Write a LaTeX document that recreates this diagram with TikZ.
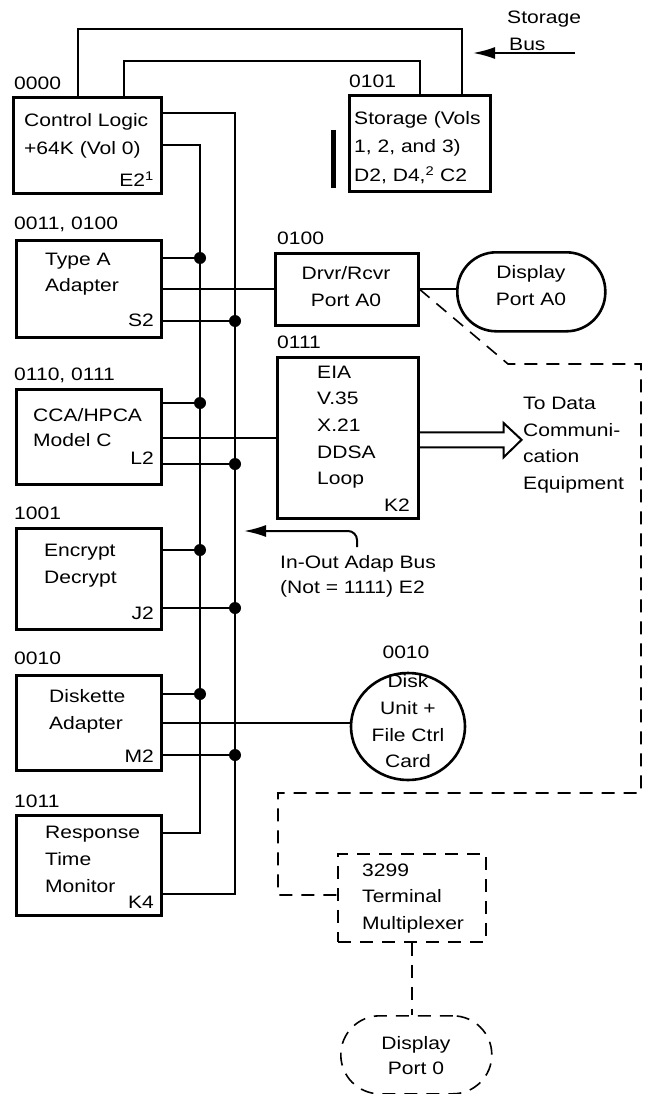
\documentclass[tikz,border=0pt]{standalone}
\usepackage{fontspec}
\setmainfont{Liberation Sans}[FakeStretch=1.17]
\usetikzlibrary{arrows.meta,shapes.geometric,calc}
\begin{document}
\begin{tikzpicture}[x=1pt,y=-1pt,
  box/.style={draw, line width=2.6pt, rectangle, inner sep=0pt, anchor=north west},
  stadium/.style={box, rounded corners=39pt},
  dbox/.style={draw, line width=1.6pt, dash pattern=on 13pt off 9pt, rectangle, inner sep=0pt, anchor=north west},
  wire/.style={line width=2pt},
  dwire/.style={line width=1.6pt, dash pattern=on 13pt off 9pt},
  dot/.style={circle, fill, inner sep=0pt, minimum size=12pt},
  txt/.style={inner sep=0pt, font=\fontsize{18}{20}\selectfont, text height=12.9pt, text depth=0pt},
  lbl/.style={txt, anchor=west},
  rlbl/.style={txt, anchor=east},
  clbl/.style={txt, anchor=center},
  bigarrow/.style={wire, -{Latex[length=22pt,width=12pt]}}
]
\useasboundingbox (0,0) rectangle (654,1094);

% ---------- boxes ----------
\node[box, minimum width=148pt, minimum height=96pt] (cl) at (12,96) {};
\node[box, minimum width=141pt, minimum height=96pt] (st) at (348,94) {};
\node[box, minimum width=145pt, minimum height=97pt] (ta) at (15,239) {};
\node[box, minimum width=143pt, minimum height=72pt] (dr) at (274,252) {};
\node[stadium, minimum width=148pt, minimum height=79pt] (dp) at (456,251) {};
\node[box, minimum width=141pt, minimum height=161pt] (ea) at (276,356) {};
\node[box, minimum width=145pt, minimum height=95pt] (cca) at (15,388) {};
\node[box, minimum width=145pt, minimum height=101pt] (enc) at (15,527) {};
\node[box, minimum width=145pt, minimum height=95pt] (dk) at (15,674) {};
\node[box, minimum width=145pt, minimum height=100pt] (rtm) at (15,814) {};
\node[draw, line width=2.6pt, ellipse, inner sep=0pt, minimum width=114pt, minimum height=107pt] (disk) at (408,726.5) {};
\node[dbox, minimum width=148pt, minimum height=88pt] (tm) at (337,853) {};
\node[dbox, rounded corners=39pt, minimum width=151pt, minimum height=78pt] (dp0) at (340,1015) {};

% ---------- labels ----------
\node[lbl] (l0000) at (14,83) {0000};
\node[lbl] (l0101) at (349,81) {0101};
\node[lbl] (sto) at (507,17) {Storage};
\node[lbl] (bus) at (509,44) {Bus};
\node[lbl] (l0011) at (14,223) {0011, 0100};
\node[lbl] (l0100) at (277,238) {0100};
\node[lbl] (l0111) at (277,342) {0111};
\node[lbl] (l0110) at (14,374) {0110, 0111};
\node[lbl] (l1001) at (14,513) {1001};
\node[lbl] (l0010a) at (14,658) {0010};
\node[clbl] (l0010b) at (406,652) {0010};
\node[lbl] (l1011) at (14,801) {1011};

% ---------- box texts ----------
\node[lbl] (cl1) at (24,120) {Control Logic};
\node[lbl] (cl2) at (24,148) {+64K (Vol 0)};
\node[rlbl] (cl3) at (154,180) {E2\textsuperscript{1}};

\node[lbl] (st1) at (354,118) {Storage (Vols};
\node[lbl] (st2) at (354,146) {1, 2, and 3)};
\node[lbl] (st3) at (354,175) {D2, D4,\textsuperscript{2} C2};

\node[lbl] (ta1) at (45,259) {Type A};
\node[lbl] (ta2) at (45,285) {Adapter};
\node[rlbl] (ta3) at (154,320) {S2};

\node[clbl] (dr1) at (346,273) {Drvr/Rcvr};
\node[clbl] (dr2) at (346,300) {Port A0};

\node[clbl] (dp1) at (531,272) {Display};
\node[clbl] (dp2) at (531,299) {Port A0};

\node[lbl] (ea1) at (317,372) {EIA};
\node[lbl] (ea2) at (317,398) {V.35};
\node[lbl] (ea3) at (317,425) {X.21};
\node[lbl] (ea4) at (317,452) {DDSA};
\node[lbl] (ea5) at (317,478) {Loop};
\node[rlbl] (ea6) at (410,505) {K2};

\node[lbl] (cca1) at (33,415) {CCA/HPCA};
\node[lbl] (cca2) at (33,440) {Model C};
\node[rlbl] (cca3) at (154,458) {L2};

\node[lbl] (td1) at (523,403) {To Data};
\node[lbl] (td2) at (523,430) {Communi-};
\node[lbl] (td3) at (523,456) {cation};
\node[lbl] (td4) at (523,483) {Equipment};

\node[lbl] (enc1) at (44,550) {Encrypt};
\node[lbl] (enc2) at (44,577) {Decrypt};
\node[rlbl] (enc3) at (154,613) {J2};

\node[lbl] (io1) at (280,562) {In-Out Adap Bus};
\node[lbl] (io2) at (280,587) {(Not = 1111) E2};

\node[lbl] (dk1) at (49,696) {Diskette};
\node[lbl] (dk2) at (49,723) {Adapter};
\node[rlbl] (dk3) at (154,756) {M2};

\node[clbl] (disk1) at (408,681) {Disk};
\node[clbl] (disk2) at (408,708) {Unit +};
\node[clbl] (disk3) at (408,735) {File Ctrl};
\node[clbl] (disk4) at (408,761) {Card};

\node[lbl] (rtm1) at (45,832) {Response};
\node[lbl] (rtm2) at (45,859) {Time};
\node[lbl] (rtm3) at (45,886) {Monitor};
\node[rlbl] (rtm4) at (154,902) {K4};

\node[lbl] (tm1) at (362,870) {3299};
\node[lbl] (tm2) at (362,896) {Terminal};
\node[lbl] (tm3) at (362,923) {Multiplexer};

\node[clbl] (dp01) at (416,1043) {Display};
\node[clbl] (dp02) at (416,1068) {Port 0};

% ---------- storage bus loops ----------
\coordinate (o1) at (78,29);
\coordinate (o2) at (462,29);
\coordinate (i1) at (124,61);
\coordinate (i2) at (420,61);
\draw[wire] (cl.north -| o1) -- (o1) -- (o2) -- (st.north -| o2);
\draw[wire] (cl.north -| i1) -- (i1) -- (i2) -- (st.north -| i2);
\coordinate (sbS) at (575,53);
\coordinate (sbT) at (473,53);
\draw[bigarrow] (sbS) -- (sbT);
\coordinate (barT) at (333,130);
\coordinate (barB) at (333,188);
\draw[line width=5pt] (barT) -- (barB);

% ---------- buses ----------
\coordinate (lbc) at (200,833);
\coordinate (rbc) at (235,894);
\draw[wire] (cl.east) -| (lbc) -- (rtm.east |- lbc);
\draw[wire] ([yshift=-17pt]cl.north east) -| (rbc) -- (rtm.east |- rbc);

\node[dot] (jl1) at (200,258) {};
\node[dot] (jl2) at (200,403) {};
\node[dot] (jl3) at (200,550) {};
\node[dot] (jl4) at (200,694) {};
\node[dot] (jr1) at (235,321) {};
\node[dot] (jr2) at (235,464) {};
\node[dot] (jr3) at (235,608) {};
\node[dot] (jr4) at (235,755) {};

\draw[wire] (ta.east |- jl1) -- (jl1);
\draw[wire] (cca.east |- jl2) -- (jl2);
\draw[wire] (enc.east |- jl3) -- (jl3);
\draw[wire] (dk.east |- jl4) -- (jl4);
\draw[wire] (ta.east |- jr1) -- (jr1);
\draw[wire] (cca.east |- jr2) -- (jr2);
\draw[wire] (enc.east |- jr3) -- (jr3);
\draw[wire] (dk.east |- jr4) -- (jr4);

% ---------- device links ----------
\draw[wire] (dr.west -| ta.east) -- (dr.west);
\draw[wire] (dr.east) -- (dr.east -| dp.west);
\draw[wire] (ea.west -| cca.east) -- (ea.west);
\draw[wire] (dk.east) -- (dk.east -| disk.west);

% hollow arrow
\draw[wire, line join=miter] ([yshift=5.5pt]ea.east) -- ++(84,0) -- ++(0,-9.3) -- ++(18,16.8)
  -- ++(-18,17.5) -- ++(0,-10) -- ++(-84,0);

% In-Out arrow
\coordinate (ioS) at (357,547);
\coordinate (ioT) at (244,531);
\draw[bigarrow, rounded corners=9pt] (ioS) |- (ioT);

% ---------- dashed links ----------
\coordinate (dA) at (508,364);
\coordinate (dB) at (641,364);
\coordinate (dC) at (641,793);
\coordinate (dD) at (278,793);
\coordinate (dE) at (278,895);
\draw[dwire] (dr.east) -- (dA) -- (dB) -- (dC) -- (dD) -- (dE) -- (tm.west |- dE);
\draw[dwire] (tm.south) -- (tm.south |- dp0.north);
\end{tikzpicture}
\end{document}
